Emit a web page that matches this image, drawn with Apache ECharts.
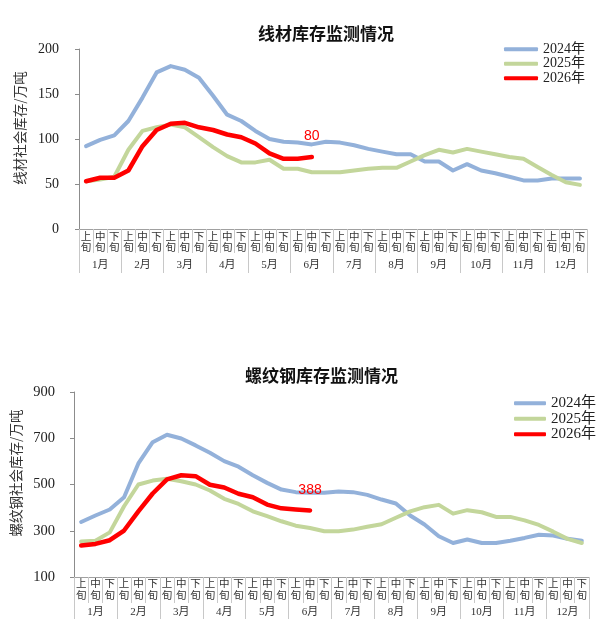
<!DOCTYPE html>
<html>
<head>
<meta charset="utf-8">
<script src="https://cdn.jsdelivr.net/npm/echarts@6/dist/echarts.min.js"></script>
<style>html,body{margin:0;padding:0;background:#fff;}#c{width:609px;height:642px;}</style>
</head>
<body>
<div id="c"></div>
<script>
// ---- data ----
const xun = ['上旬', '中旬', '下旬'];
const months = ['1月','2月','3月','4月','5月','6月','7月','8月','9月','10月','11月','12月'];
const categories = months.flatMap(() => xun);
const seriesNames = ['2024年', '2025年', '2026年'];

const wireTitle = '线材库存监测情况';
const wireYName = '线材社会库存/万吨';
const wireTicks = { min: 0, max: 200, step: 50 };
const wire2024 = [92,99,104,120,146,174,181,177,168,148,127,120,109,100,97,96,94,97,96,93,89,86,83,83,75,75,65,72,65,62,58,54,54,56,56,56];
const wire2025 = [53,55,58,88,109,113,116,113,102,91,81,74,74,77,67,67,63,63,63,65,67,68,68,75,82,88,85,89,86,83,80,78,69,60,52,49];
const wire2026 = [53,57,57,65,92,110,117,118,113,110,105,102,95,84,78,78,80];

const rebarTitle = '螺纹钢库存监测情况';
const rebarYName = '螺纹钢社会库存/万吨';
const rebarTicks = { min: 100, max: 900, step: 200 };
const rebar2024 = [338,366,392,445,591,683,715,699,669,637,601,577,540,507,478,467,464,464,470,467,455,435,418,366,327,276,247,262,247,247,257,269,283,279,265,257];
const rebar2025 = [253,257,293,406,500,517,525,514,500,474,438,416,384,363,341,322,312,298,298,305,317,328,356,384,402,412,374,389,380,360,360,345,325,296,265,247];
const rebar2026 = [236,243,259,301,384,461,522,540,536,499,487,460,445,413,397,392,388];

// ---- styles ----
const COLORS = ['#93B1DA', '#C3D69B', '#FF0000'];
const SERIF = '"Liberation Serif","Noto Sans CJK SC",serif';
const CJK = '"Noto Sans CJK SC",sans-serif';
const TICK_COLOR = '#C8C8C8';

function withLastLabel(arr) {
  return arr.map((v, i) => i === arr.length - 1 ? { value: v, label: { show: true } } : v);
}

function makeAxes(gridIndex, rowTick, monthTick, monthMargin, xunMargin, ticks, yMargin, yFont) {
  const x = [
    {
      type: 'category', gridIndex, data: categories, position: 'bottom', offset: 0,
      boundaryGap: true,
      axisLine: { show: true, onZero: false, lineStyle: { color: '#A0A0A0', width: 1 } },
      axisTick: { show: true, interval: 0, length: rowTick, lineStyle: { color: TICK_COLOR } },
      axisLabel: {
        interval: 0, margin: xunMargin, fontSize: 10.5, lineHeight: 11.5, color: '#333',
        fontFamily: CJK, formatter: v => v.split('').join('\n')
      },
      splitLine: { show: false }
    },
    {
      type: 'category', gridIndex, data: months, position: 'bottom', offset: 0,
      boundaryGap: true,
      axisLine: { show: false, onZero: false },
      axisTick: { show: true, interval: 0, length: monthTick, lineStyle: { color: TICK_COLOR } },
      axisLabel: { interval: 0, margin: monthMargin, fontSize: 11, lineHeight: 12, color: '#333', fontFamily: SERIF },
      splitLine: { show: false }
    }
  ];
  const y = {
    type: 'value', gridIndex, min: ticks.min, max: ticks.max, interval: ticks.step,
    axisLine: { show: true, lineStyle: { color: '#8C8C8C', width: 1 } },
    axisTick: { show: true, length: 4, inside: false, lineStyle: { color: '#8C8C8C' } },
    axisLabel: { margin: yMargin, fontSize: yFont, color: '#222', fontFamily: SERIF },
    splitLine: { show: false }
  };
  return { x, y };
}

const a1 = makeAxes(0, 24, 44, 30, 1, wireTicks, 20, 14);
const a2 = makeAxes(1, 26, 42, 29, 0.5, rebarTicks, 19, 14.5);

function lineSeries(name, data, color, xIdx, yIdx, last) {
  const s = {
    name, type: 'line', xAxisIndex: xIdx, yAxisIndex: yIdx,
    data: last ? withLastLabel(data) : data,
    lineStyle: { color, width: last ? 4.5 : 4, cap: 'round', join: 'round' },
    itemStyle: { color },
    symbol: last ? 'circle' : 'none', symbolSize: last ? 1 : 0,
    showSymbol: !!last, showAllSymbol: true,
    silent: true, animation: false
  };
  if (last) {
    s.label = { show: false, position: 'top', distance: 13, color: '#FF0000', fontSize: 14, fontFamily: '"Liberation Sans",Arial,sans-serif' };
  }
  return s;
}

const legendBase = {
  orient: 'vertical', icon: 'roundRect', itemHeight: 4, itemGap: 0, itemTextGap: 2, padding: 0,
  data: seriesNames, selectedMode: false
};

const option = {
  backgroundColor: '#fff',
  animation: false,
  title: [
    { text: wireTitle, left: 258, top: 24, padding: 0, textStyle: { fontSize: 17, fontWeight: 'bold', color: '#111', fontFamily: CJK, lineHeight: 20 } },
    { text: rebarTitle, left: 245, top: 366, padding: 0, textStyle: { fontSize: 17, fontWeight: 'bold', color: '#111', fontFamily: CJK, lineHeight: 20 } }
  ],
  legend: [
    Object.assign({}, legendBase, { left: 504, top: 42, itemWidth: 34, textStyle: { fontSize: 14, lineHeight: 14.5, color: '#222', fontFamily: SERIF } }),
    Object.assign({}, legendBase, { left: 514, top: 395.5, itemWidth: 32, textStyle: { fontSize: 15, lineHeight: 15.5, color: '#222', fontFamily: SERIF } })
  ],
  grid: [
    { left: 79, right: 22, top: 49, bottom: 413, outerBoundsMode: 'none', containLabel: false },
    { left: 74, right: 20, top: 392, bottom: 65, outerBoundsMode: 'none', containLabel: false }
  ],
  xAxis: [...a1.x, ...a2.x],
  yAxis: [a1.y, a2.y],
  graphic: [
    { type: 'text', x: 20, y: 128, rotation: Math.PI / 2, style: { text: wireYName, fontSize: 13.5, fontFamily: CJK, fill: '#333', align: 'center', verticalAlign: 'middle' } },
    { type: 'text', x: 16, y: 473, rotation: Math.PI / 2, style: { text: rebarYName, fontSize: 13.5, fontFamily: CJK, fill: '#333', align: 'center', verticalAlign: 'middle' } }
  ],
  series: [
    lineSeries(seriesNames[0], wire2024, COLORS[0], 0, 0, false),
    lineSeries(seriesNames[1], wire2025, COLORS[1], 0, 0, false),
    lineSeries(seriesNames[2], wire2026, COLORS[2], 0, 0, true),
    lineSeries(seriesNames[0], rebar2024, COLORS[0], 2, 1, false),
    lineSeries(seriesNames[1], rebar2025, COLORS[1], 2, 1, false),
    lineSeries(seriesNames[2], rebar2026, COLORS[2], 2, 1, true)
  ]
};

const chart = echarts.init(document.getElementById('c'), null, { renderer: 'canvas' });
chart.setOption(option);
</script>
</body>
</html>
